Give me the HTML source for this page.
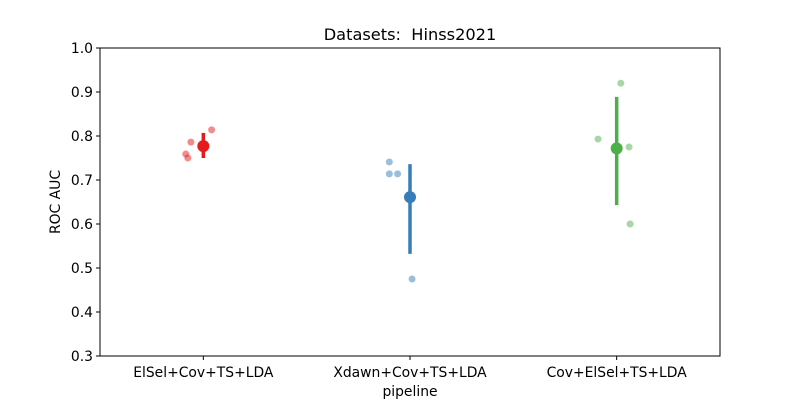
<!DOCTYPE html>
<html><head><meta charset="utf-8"><style>
body{margin:0;background:#fff;font-family:"Liberation Sans","DejaVu Sans",sans-serif}
</style></head><body>
<svg id="chart" width="800" height="400" xmlns="http://www.w3.org/2000/svg" font-family="DejaVu Sans, Liberation Sans, sans-serif">
<rect width="800" height="400" fill="#fff"/>
<text x="410" y="40" text-anchor="middle" font-size="16.2" style="white-space:pre">Datasets:&#160; Hinss2021</text>
<g id="plot"></g>
<rect x="100" y="48" width="620" height="308" fill="none" stroke="#000" stroke-width="1"/>
<text x="410" y="396" text-anchor="middle" font-size="13.9">pipeline</text>
<text transform="translate(60,202) rotate(-90)" text-anchor="middle" font-size="13.9">ROC AUC</text>
</svg>
<script>
const categories=["ElSel+Cov+TS+LDA","Xdawn+Cov+TS+LDA","Cov+ElSel+TS+LDA"];
const colors=["#e41a1c","#377eb8","#4daf4a"];
const pointValues=[[0.814,0.786,0.759,0.750],[0.741,0.714,0.714,0.475],[0.920,0.793,0.775,0.600]];
const pointJitter=[[0.04,-0.06,-0.085,-0.075],[-0.10,-0.10,-0.06,0.01],[0.02,-0.09,0.06,0.065]];
const means=[0.777,0.661,0.772];
const ciLow=[0.750,0.532,0.643];
const ciHigh=[0.807,0.736,0.889];
const yTicks=[0.3,0.4,0.5,0.6,0.7,0.8,0.9,1.0];
const X0=100,W=620,Y0=48,H=308,ymin=0.3,ymax=1.0;
const xs=i=>X0+W*(i+0.5)/categories.length;
const band=W/categories.length;
const ys=v=>Y0+H*(ymax-v)/(ymax-ymin);
const NS="http://www.w3.org/2000/svg";
const svg=document.getElementById('chart');
const plot=document.getElementById('plot');
function mk(t,a,p){const e=document.createElementNS(NS,t);for(const k in a)e.setAttribute(k,a[k]);(p||plot).appendChild(e);return e;}
yTicks.forEach(v=>{
  const l=mk('line',{x1:X0-4,x2:X0,y1:ys(v),y2:ys(v),stroke:'#000'},svg);
  
  
  const t=mk('text',{x:X0-7,y:ys(v)+5,'text-anchor':'end','font-size':13.9},svg);
  t.textContent=v.toFixed(1);
  
  
});
categories.forEach((c,i)=>{
  const l=mk('line',{x1:xs(i),x2:xs(i),y1:Y0+H,y2:Y0+H+4,stroke:'#000'},svg);
  
  
  const t=mk('text',{x:xs(i),y:Y0+H+21,'text-anchor':'middle','font-size':13.9},svg);
  t.textContent=c;
  
  
  pointValues[i].forEach((v,j)=>{
    const p=mk('circle',{cx:xs(i)+pointJitter[i][j]*band,cy:ys(v),r:3.5,fill:colors[i],'fill-opacity':0.5});
    
    
  });
  const e=mk('line',{x1:xs(i),x2:xs(i),y1:ys(ciHigh[i]),y2:ys(ciLow[i]),stroke:colors[i],'stroke-width':3.5});
  
  
  const m=mk('circle',{cx:xs(i),cy:ys(means[i]),r:6,fill:colors[i]});
  
  
});
</script>
</body></html>
